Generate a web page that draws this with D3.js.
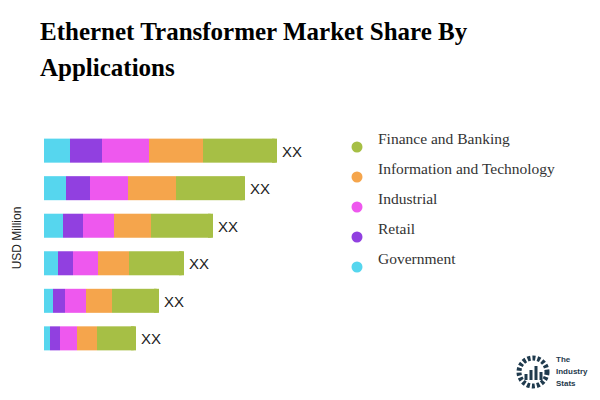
<!DOCTYPE html>
<html><head><meta charset="utf-8">
<script src="https://cdn.jsdelivr.net/npm/d3@7"></script>
<style>body{margin:0;background:#fff}svg{display:block}</style>
</head><body><svg id="c" width="600" height="400"></svg>
<script>
const categories = ["2019","2020","2021","2022","2023","2024"];
const seriesNames = ["Government","Retail","Industrial","Information and Technology","Finance and Banking"];
const government = [26,22,19,14,9,6];
const retail = [32,24,20,15,12,10];
const industrial = [47,38,31,25,21,17];
const itTech = [54,48,37,31,26,20];
const finance = [74,69,62,55,47,39];
const labels = ["XX","XX","XX","XX","XX","XX"];
const colors = ["#56d6ee","#9140e0","#ee58ee","#f5a54c","#a6bf45"];

const svg = d3.select("#c");
svg.append("text").attr("x",40).attr("y",40).attr("font-family","Liberation Serif").attr("font-weight","bold").attr("font-size",25).text("Ethernet Transformer Market Share By");
svg.append("text").attr("x",40).attr("y",76).attr("font-family","Liberation Serif").attr("font-weight","bold").attr("font-size",25).text("Applications");

const series = [government,retail,industrial,itTech,finance];
const data = categories.map((c,i)=>{const o={cat:c};seriesNames.forEach((s,j)=>o[s]=series[j][i]);return o;});
const stack = d3.stack().keys(seriesNames)(data);
const x = d3.scaleLinear().domain([0,233]).range([44,277]);
const y = d3.scaleBand().domain(categories).range([133,356]).paddingInner(0.36).paddingOuter(0.15);

stack.forEach((layer,j)=>{
  svg.append("g").selectAll("rect").data(layer).join("rect")
    .attr("x",d=>x(d[0])).attr("y",d=>y(d.data.cat))
    .attr("width",d=>x(d[1])-x(d[0])).attr("height",y.bandwidth())
    .attr("fill",colors[j]);
});
svg.append("g").selectAll("path").data(stack[4]).join("path")
  .attr("fill",colors[4])
  .attr("d",d=>{const x1=x(d[1]),y0=y(d.data.cat),h=y.bandwidth(),r=3;
    return `M${x1-5},${y0}H${x1-r}Q${x1},${y0} ${x1},${y0+r}V${y0+h-r}Q${x1},${y0+h} ${x1-r},${y0+h}H${x1-5}Z`;});
svg.append("g").selectAll("text").data(stack[4]).join("text")
  .attr("x",d=>x(d[1])+5).attr("y",d=>y(d.data.cat)+y.bandwidth()/2+6)
  .attr("font-family","Liberation Sans").attr("font-size",15).attr("fill","#222")
  .text((d,i)=>labels[i]);

svg.append("text").attr("transform","translate(21,238) rotate(-90)").attr("text-anchor","middle")
  .attr("font-family","Liberation Sans").attr("font-size",12).attr("fill","#222").text("USD Million");

const leg = seriesNames.slice().reverse();
const legCol = colors.slice().reverse();
leg.forEach((s,i)=>{
  const yy=147+i*30;
  svg.append("circle").attr("cx",357).attr("cy",yy).attr("r",5.5).attr("fill",legCol[i]);
  svg.append("text").attr("x",378).attr("y",yy-3).attr("font-family","Liberation Serif").attr("font-size",15.5).attr("fill","#333").text(s);
});

const lg=svg.append("g");
lg.append("circle").attr("cx",533).attr("cy",372).attr("r",14).attr("fill","none").attr("stroke","#1f3a4d").attr("stroke-width",5).attr("stroke-dasharray","3 2");
[[526,6],[531,10],[536,14],[541,8]].forEach(([bx,h])=>lg.append("rect").attr("x",bx-1.5).attr("y",380-h).attr("width",3).attr("height",h).attr("fill","#1f3a4d"));
["The","Industry","Stats"].forEach((t,i)=>lg.append("text").attr("x",556).attr("y",362+i*12).attr("font-family","Liberation Sans").attr("font-weight","bold").attr("font-size",8).attr("fill","#1f3a4d").text(t));
</script></body></html>
